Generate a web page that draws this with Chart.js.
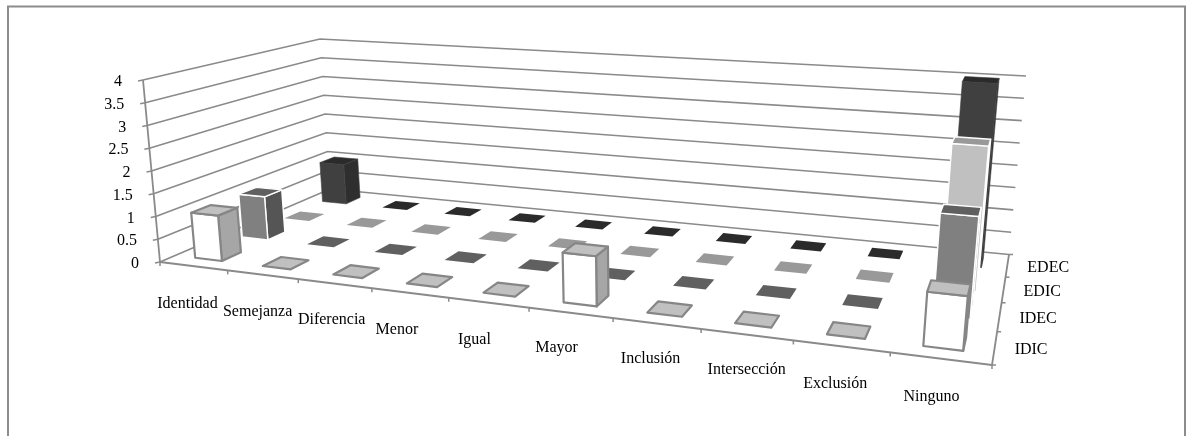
<!DOCTYPE html>
<html><head><meta charset="utf-8">
<style>html,body{margin:0;padding:0;background:#fff}canvas{display:block}</style>
<script src="https://cdn.jsdelivr.net/npm/chart.js@4"></script>
</head><body><canvas id="c" width="1188" height="436"></canvas>
<script>
const categories = ['Identidad','Semejanza','Diferencia','Menor','Igual','Mayor','Inclusión','Intersección','Exclusión','Ninguno'];
const seriesNames = ['IDIC','IDEC','EDIC','EDEC'];
const idic = [1,0,0,0,0,1,0,0,0,1];
const idec = [1,0,0,0,0,0,0,0,0,2];
const edic = [0,0,0,0,0,0,0,0,0,3];
const edec = [1,0,0,0,0,0,0,0,0,4];
const seriesValues = [idic,idec,edic,edec];

// Screen corners of the floor and ceiling planes: front-left, front-right, back-right, back-left
const FLOOR = [[160,262],[992,365],[1009,254.5],[330,189]];
const CEIL  = [[143,80],[1013,140],[1026,76],[320,39]];
const AXIS = '#8a8a8a';
const FACES = [
  {front:'#ffffff',top:'#c0c0c0',side:'#a6a6a6',stroke:'#868686',lw:2.2},
  {front:'#808080',top:'#606060',side:'#555555',stroke:'#ffffff',lw:1.4},
  {front:'#c0c0c0',top:'#999999',side:'#8a8a8a',stroke:'#ffffff',lw:1.4},
  {front:'#404040',top:'#2b2b2b',side:'#2e2e2e',stroke:'#404040',lw:0.6}
];
const BAR_SHARE = 0.4;
const FONT = '16px "Liberation Serif"';
const TEXT_DROP = 2;
const LABEL_NUDGE = [[-6,36],[-5,35],[-3,34],[-13,35],[-14,35],[-14,33],[-6,33],[0,33],[-6,35],[-9,36]];

function homography(q){
  const [[x0,y0],[x1,y1],[x2,y2],[x3,y3]] = q;
  const dx1=x1-x2, dx2=x3-x2, sx=x0-x1+x2-x3, dy1=y1-y2, dy2=y3-y2, sy=y0-y1+y2-y3;
  const det=dx1*dy2-dx2*dy1;
  const g=(sx*dy2-dx2*sy)/det, h=(dx1*sy-sx*dy1)/det;
  const a=x1-x0+g*x1, b=x3-x0+h*x3, d=y1-y0+g*y1, e=y3-y0+h*y3;
  return (u,v)=>{const w=g*u+h*v+1; return [(a*u+b*v+x0)/w,(d*u+e*v+y0)/w];};
}
const floorMap = homography(FLOOR), ceilMap = homography(CEIL);
function P(u,v,t){
  const f=floorMap(u,v), c=ceilMap(u,v);
  return [f[0]+(c[0]-f[0])*t, f[1]+(c[1]-f[1])*t];
}
function poly(ctx,pts,fill,stroke,lw){
  ctx.beginPath();
  pts.forEach((p,i)=>i?ctx.lineTo(p[0],p[1]):ctx.moveTo(p[0],p[1]));
  ctx.closePath();
  if(fill){ctx.fillStyle=fill;ctx.fill();}
  if(stroke){ctx.strokeStyle=stroke;ctx.lineWidth=lw;ctx.lineJoin='round';ctx.stroke();}
}
function seg(ctx,pts,color,lw){
  ctx.beginPath();
  pts.forEach((p,i)=>i?ctx.lineTo(p[0],p[1]):ctx.moveTo(p[0],p[1]));
  ctx.strokeStyle=color;ctx.lineWidth=lw;ctx.stroke();
}
const dec=(s,v)=>s.getDecimalForPixel(s.getPixelForValue(v));

const scene3d = {
  id:'scene3d',
  beforeDatasetsDraw(chart){
    const ctx=chart.ctx, X=chart.scales.x, Y=chart.scales.y, Z=chart.scales.depth;
    ctx.save();
    // frame
    seg(ctx,[[8,440],[8,6.5],[1185,6.5],[1185,440]],'#8c8c8c',2);
    // wall gridlines
    Y.ticks.forEach(t=>{
      const h=dec(Y,t.value);
      seg(ctx,[P(0,0,h),P(0,1,h),P(1,1,h)],AXIS,1.6);
    });
    // axes
    seg(ctx,[P(0,0,0),P(0,0,1)],AXIS,1.8);
    seg(ctx,[P(0,0,0),P(1,0,0)],AXIS,1.8);
    seg(ctx,[P(1,0,0),P(1,1,0)],AXIS,1.8);
    ctx.font=FONT; ctx.fillStyle='#000'; ctx.textBaseline='middle';
    // value axis
    ctx.textAlign='right';
    Y.ticks.forEach(t=>{
      const p=P(0,0,dec(Y,t.value));
      seg(ctx,[p,[p[0]-5,p[1]+1]],AXIS,1.5);
      ctx.fillStyle='#000';
      ctx.fillText(t.label,p[0]-21,p[1]+TEXT_DROP);
    });
    // category axis
    ctx.textAlign='center';
    const n=categories.length, m=seriesNames.length;
    for(let i=0;i<=n;i++){const p=P(i/n,0,0);seg(ctx,[p,[p[0],p[1]+4]],AXIS,1.5);}
    X.getLabels().forEach((lab,i)=>{
      const p=P(dec(X,i),0,0), o=LABEL_NUDGE[i];
      ctx.fillStyle='#000';
      ctx.fillText(lab,p[0]+o[0],p[1]+o[1]+TEXT_DROP);
    });
    // depth axis
    ctx.textAlign='left';
    for(let j=0;j<=m;j++){const p=P(1,j/m,0);seg(ctx,[p,[p[0]+4,p[1]]],AXIS,1.5);}
    Z.getLabels().forEach((lab,j)=>{
      const p=P(1,dec(Z,j),0);
      ctx.fillStyle='#000';
      ctx.fillText(lab,p[0]+20,p[1]+TEXT_DROP);
    });
    // bars, back row first, left to right
    const hu=BAR_SHARE/2/n, hv=BAR_SHARE/2/m;
    for(let j=m-1;j>=0;j--){
      const parsed=chart.getDatasetMeta(j)._parsed, f=FACES[j], vc=dec(Z,j);
      parsed.forEach((pt,i)=>{
        const uc=dec(X,pt.x), h=dec(Y,pt.y);
        const u0=uc-hu,u1=uc+hu,v0=vc-hv,v1=vc+hv;
        if(h>0){
          poly(ctx,[P(u1,v0,0),P(u1,v1,0),P(u1,v1,h),P(u1,v0,h)],f.side,f.stroke,f.lw);
          poly(ctx,[P(u0,v0,0),P(u1,v0,0),P(u1,v0,h),P(u0,v0,h)],f.front,f.stroke,f.lw);
        }
        poly(ctx,[P(u0,v0,h),P(u1,v0,h),P(u1,v1,h),P(u0,v1,h)],f.top,h>0||j===0?f.stroke:null,f.lw);
      });
    }
    ctx.restore();
    return false;
  }
};

new Chart(document.getElementById('c'),{
  type:'bar',
  data:{labels:categories,datasets:seriesNames.map((name,j)=>({label:name,data:seriesValues[j]}))},
  options:{
    responsive:false,animation:false,
    plugins:{legend:{display:false},tooltip:{enabled:false},title:{display:false}},
    scales:{
      x:{type:'category',display:false,offset:true},
      y:{type:'linear',display:false,min:0,max:4,ticks:{stepSize:0.5,callback:v=>String(v)}},
      depth:{type:'category',axis:'x',position:'top',display:false,offset:true,labels:seriesNames}
    }
  },
  plugins:[scene3d]
});
</script></body></html>
